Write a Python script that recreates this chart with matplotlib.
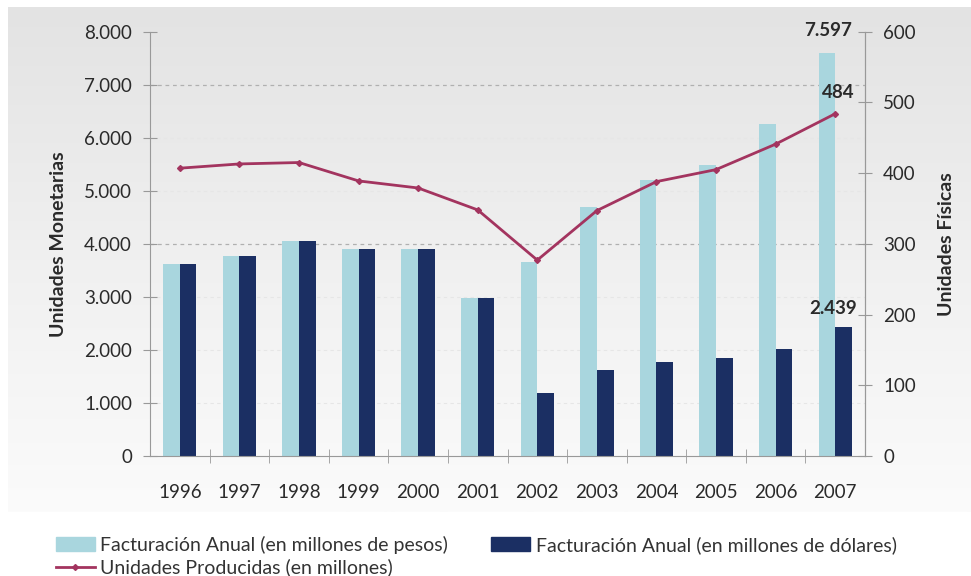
import matplotlib
matplotlib.use("Agg")
import matplotlib.pyplot as plt
import numpy as np
from matplotlib.lines import Line2D
from matplotlib.patches import Patch
from matplotlib.ticker import FuncFormatter, FixedLocator
from matplotlib.colors import LinearSegmentedColormap

years = ["1996", "1997", "1998", "1999", "2000", "2001", "2002", "2003", "2004", "2005", "2006", "2007"]
pesos = [3620, 3780, 4050, 3900, 3900, 2970, 3650, 4700, 5200, 5480, 6260, 7597]
dolares = [3620, 3780, 4050, 3900, 3900, 2970, 1190, 1620, 1770, 1850, 2020, 2439]
unidades = [407, 413, 415, 389, 379, 348, 277, 347, 388, 405, 441, 484]

lab_pesos = "Facturación Anual (en millones de pesos)"
lab_dol = "Facturación Anual (en millones de dólares)"
lab_uni = "Unidades Producidas (en millones)"

c_light = "#a9d6de"
c_dark = "#1b2f63"
c_line = "#a3345f"
c_text = "#2a2a2a"

plt.rcParams['font.family'] = ['Lato', 'DejaVu Sans']

W, H = 971, 576
fig = plt.figure(figsize=(W / 100, H / 100), dpi=100)
fig.patch.set_facecolor("white")

# gradient background panel
bg = fig.add_axes([8 / W, 1 - 512 / H, 962 / W, 505 / H], zorder=0)
grad = np.linspace(0, 1, 256).reshape(-1, 1)
cm = LinearSegmentedColormap.from_list("g", ["#e3e3e3", "#f0f0f0", "#fbfbfb"])
bg.imshow(grad, aspect="auto", cmap=cm, extent=[0, 1, 0, 1], origin="upper")
bg.set_axis_off()

ax = fig.add_axes([150 / W, 1 - 456 / H, (865 - 150) / W, (456 - 31.7) / H], zorder=1)
ax.patch.set_alpha(0)
x = np.arange(len(years))
bw = 0.28
ax.bar(x - bw / 2, pesos, width=bw, color=c_light, zorder=2)
ax.bar(x + bw / 2, dolares, width=bw, color=c_dark, zorder=2)
ax.set_xlim(-0.5, len(years) - 0.5)
ax.set_ylim(0, 8000)
ax.set_yticks(np.arange(0, 8001, 1000))
ax.yaxis.set_major_formatter(FuncFormatter(lambda v, p: f"{int(v):,}".replace(",", ".")))
ax.set_xticks(x)
ax.set_xticklabels(years)
ax.xaxis.set_minor_locator(FixedLocator(x[:-1] + 0.5))
ax.tick_params(axis="x", which="major", length=0, pad=20, labelsize=13.5, colors=c_text)
ax.tick_params(axis="x", which="minor", length=10, direction="inout", color="#999999")
ax.tick_params(axis="y", length=10, direction="inout", color="#999999", labelsize=13.5, colors=c_text, pad=8)
for v in [7000, 4000]:
    ax.axhline(v, color="#b0b0b0", linestyle=(0, (3, 3)), linewidth=0.9, zorder=1)
for v in [1000, 2000, 3000, 5000, 6000]:
    ax.axhline(v, color="#e6e6e6", linestyle=(0, (3, 3)), linewidth=0.8, zorder=1)
ax.spines["top"].set_visible(False)
for s in ["left", "bottom", "right"]:
    ax.spines[s].set_color("#999999")
ax.set_ylabel("Unidades Monetarias", fontsize=14, fontweight="bold", color=c_text, labelpad=12)

ax2 = ax.twinx()
ax2.set_zorder(2)
ax2.patch.set_alpha(0)
ax2.plot(x, unidades, color=c_line, linewidth=2, marker="D", markersize=3, zorder=3)
ax2.set_ylim(0, 600)
ax2.set_yticks(np.arange(0, 601, 100))
ax2.tick_params(axis="y", length=10, direction="inout", color="#999999", labelsize=13.5, colors=c_text, pad=8)
for s in ["top", "left", "bottom"]:
    ax2.spines[s].set_visible(False)
ax2.spines["right"].set_color("#999999")
ax2.set_ylabel("Unidades Físicas", fontsize=14, fontweight="bold", color=c_text, labelpad=16)

# annotations
ax.annotate(f"{pesos[-1]:,}".replace(",", "."), xy=(x[-1] - bw / 2, pesos[-1]), xytext=(18, 10),
            textcoords="offset points", ha="right", va="bottom", fontsize=13.5, fontweight="bold", color=c_text)
ax2.annotate(str(unidades[-1]), xy=(x[-1], unidades[-1]), xytext=(14, 9),
             textcoords="offset points", ha="right", va="bottom", fontsize=13.5, fontweight="bold", color=c_text)
ax.annotate(f"{dolares[-1]:,}".replace(",", "."), xy=(x[-1] + bw / 2, dolares[-1]), xytext=(10, 7),
            textcoords="offset points", ha="right", va="bottom", fontsize=13.5, fontweight="bold", color=c_text)

handles = [Patch(color=c_light), Line2D([0], [0], color=c_line, lw=2, marker="D", markersize=3),
           Patch(color=c_dark)]
labels = [lab_pesos, lab_uni, lab_dol]
fig.legend(handles, labels, ncol=2, loc="upper left", bbox_to_anchor=(42 / W, 1 - 522 / H),
           frameon=False, fontsize=14, handlelength=2.0, handleheight=0.7, columnspacing=2.2,
           labelspacing=0.25, handletextpad=0.3, labelcolor="#333333", borderpad=0.2)

fig.savefig("out.png", dpi=100)
